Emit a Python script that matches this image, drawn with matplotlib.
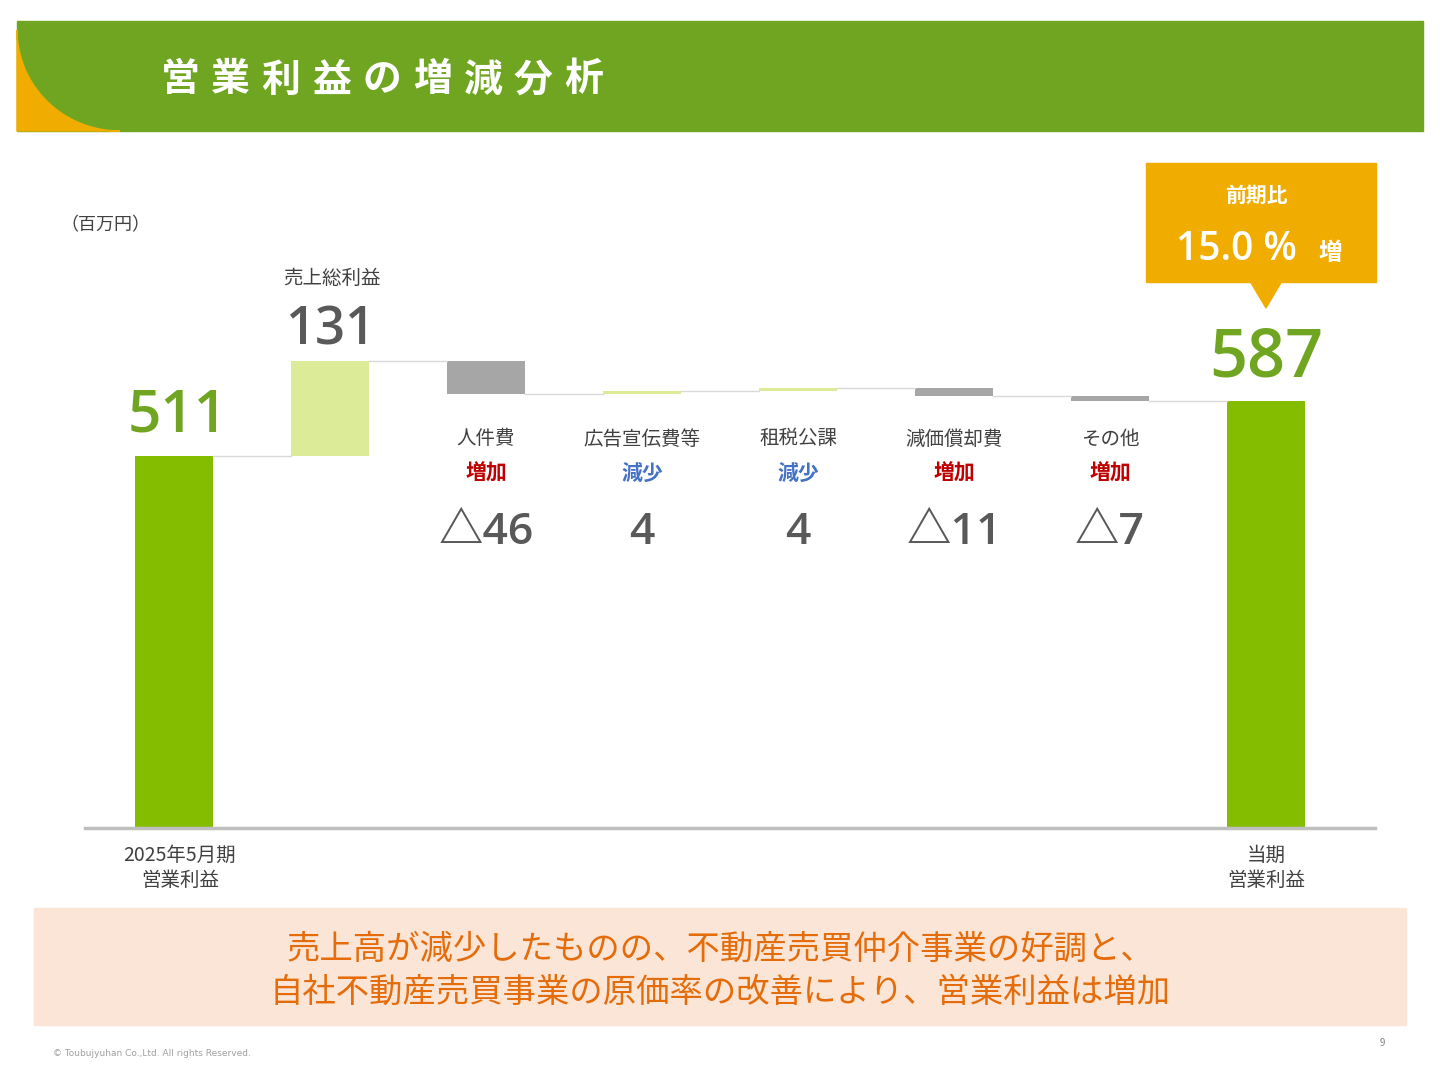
import numpy as np
import matplotlib
matplotlib.use("Agg")
import matplotlib.pyplot as plt
from matplotlib.patches import Rectangle, Polygon

plt.rcParams['font.family'] = ['Noto Sans CJK JP', 'DejaVu Sans']
NUM_FONT = ['Open Sans', 'Noto Sans CJK JP']

# data (百万円)
start_value = 511
end_value = 587
step_names = ['売上総利益', '人件費', '広告宣伝費等', '租税公課', '減価償却費', 'その他']
step_values = [131, -46, 4, 4, -11, -7]
step_notes = ['', '増加', '減少', '減少', '増加', '増加']
step_labels = ['131', '△46', '4', '4', '△11', '△7']

W, H = 1440, 1080
fig = plt.figure(figsize=(14.4, 10.8), dpi=100)

def px(x, y):
    return x / W, 1 - y / H

def ftext(x, y, s, **kw):
    kw.setdefault('ha', 'center')
    kw.setdefault('va', 'center')
    fig.text(*px(x, y), s, **kw)

# header band
hdr = fig.add_axes([0, 0, 1, 1], zorder=0)
hdr.set_xlim(0, W)
hdr.set_ylim(H, 0)
hdr.axis('off')
hdr.add_patch(Rectangle((17, 21), 1406, 110, color='#6fa521'))
t = np.linspace(np.pi / 2, np.pi, 40)
arc = np.column_stack([120 + 103 * np.cos(t), 30 + 101 * np.sin(t)])
hdr.add_patch(Polygon(np.vstack([arc, [[17, 131]]]), color='#f0ad00'))
title = '営業利益の増減分析'
for k, ch in enumerate(title):
    ftext(180 + 50.5 * k, 80, ch, color='white', fontsize=28, fontweight='bold')

# callout
hdr.add_patch(Rectangle((1146, 163), 230, 119, color='#f0ad00'))
hdr.add_patch(Polygon([[1250, 281], [1282, 281], [1266, 308]], color='#f0ad00'))
ftext(1256, 195, '前期比', color='white', fontsize=15, fontweight='bold')
ftext(1236, 250, '15.0 %', color='white', fontsize=28, fontweight='semibold',
      family=NUM_FONT)
ftext(1330, 253, '増', color='white', fontsize=17, fontweight='bold')

# bottom message
hdr.add_patch(Rectangle((34, 908), 1372, 117, color='#fbe5d6'))
ftext(720, 949, '売上高が減少したものの、不動産売買仲介事業の好調と、',
      color='#e46c0a', fontsize=24)
ftext(720, 992, '自社不動産売買事業の原価率の改善により、営業利益は増加',
      color='#e46c0a', fontsize=24)
ftext(53, 1053, '© Toubujyuhan Co.,Ltd. All rights Reserved.', ha='left',
      color='#a0a0a0', fontsize=6.5, family=['DejaVu Sans'])
ftext(1382, 1043, '9', color='#808080', fontsize=7)

# waterfall
ax = fig.add_axes([85 / W, 1 - 828 / H, 1290 / W, (828 - 150) / H], zorder=1)
ax.patch.set_alpha(0)
ax.set_xlim((85 - 174) / 156, (1375 - 174) / 156)
ax.set_ylim(0, (828 - 150) / 0.728)
for s in ['top', 'right', 'left']:
    ax.spines[s].set_visible(False)
ax.spines['bottom'].set_color('#bfbfbf')
ax.spines['bottom'].set_linewidth(2.5)
ax.set_xticks([])
ax.set_yticks([])

bw = 0.5
ax.bar(0, start_value, width=bw, color='#84bc00')
level = start_value
for i, v in enumerate(step_values, start=1):
    col = '#dbeb98' if v > 0 else '#a6a6a6'
    bottom = level if v > 0 else level + v
    ax.bar(i, abs(v), bottom=bottom, width=bw, color=col)
    ax.plot([i - 1 + bw / 2, i - bw / 2], [level, level], color='#d9d9d9', lw=1)
    level += v
n = len(step_values) + 1
ax.plot([n - 1 + bw / 2, n - bw / 2], [level, level], color='#d9d9d9', lw=1)
ax.bar(n, end_value, width=bw, color='#84bc00')

# labels
ftext(105, 225, '（百万円）', color='#404040', fontsize=13)
ftext(178, 416, str(start_value), color='#6fa521', fontsize=42,
      fontweight='semibold', family=NUM_FONT)
ftext(1266, 359, str(end_value), color='#6fa521', fontsize=48,
      fontweight='semibold', family=NUM_FONT)
ftext(332, 278, step_names[0], color='#404040', fontsize=14)
ftext(330, 331, step_labels[0], color='#595959', fontsize=38,
      fontweight='semibold', family=NUM_FONT)
for i in range(1, len(step_names)):
    x = 174 + 156 * (i + 1)
    ftext(x, 439, step_names[i], color='#404040', fontsize=14)
    note_col = '#c00000' if step_notes[i] == '増加' else '#4472c4'
    ftext(x, 473, step_notes[i], color=note_col, fontsize=15, fontweight='bold')
    ftext(x, 533, step_labels[i], color='#595959', fontsize=32,
          fontweight='semibold', family=NUM_FONT)
ftext(180, 855, '2025年5月期', color='#404040', fontsize=14)
ftext(180, 880, '営業利益', color='#404040', fontsize=14)
ftext(1266, 855, '当期', color='#404040', fontsize=14)
ftext(1266, 880, '営業利益', color='#404040', fontsize=14)

fig.savefig('out.png', dpi=100)
